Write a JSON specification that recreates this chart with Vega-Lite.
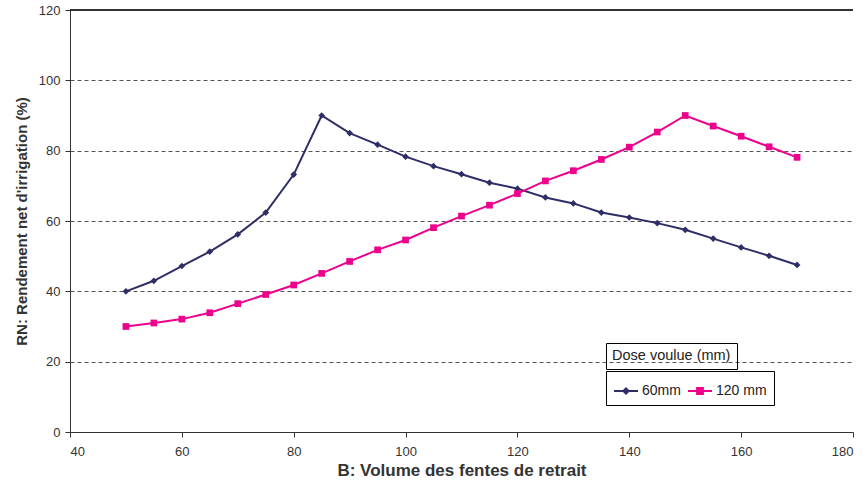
{
  "$schema": "https://vega.github.io/schema/vega-lite/v6.json",
  "autosize": "none",
  "width": 783,
  "height": 422,
  "padding": {"left": 70, "top": 10, "right": 14, "bottom": 54},
  "background": "white",
  "config": {
    "font": "Liberation Sans",
    "view": {"stroke": null},
    "axis": {
      "labelFont": "Liberation Sans",
      "labelFontSize": 13,
      "labelColor": "#333333",
      "titleFont": "Liberation Sans",
      "titleFontWeight": "bold",
      "titleColor": "#333333",
      "domainColor": "#333333",
      "tickColor": "#333333",
      "tickSize": 5
    }
  },
  "data": {
    "values": [
      {"B": 50, "RN": 40, "Dose": "60mm"},
      {"B": 55, "RN": 43, "Dose": "60mm"},
      {"B": 60, "RN": 47.2, "Dose": "60mm"},
      {"B": 65, "RN": 51.3, "Dose": "60mm"},
      {"B": 70, "RN": 56.2, "Dose": "60mm"},
      {"B": 75, "RN": 62.4, "Dose": "60mm"},
      {"B": 80, "RN": 73.2, "Dose": "60mm"},
      {"B": 85, "RN": 90, "Dose": "60mm"},
      {"B": 90, "RN": 85, "Dose": "60mm"},
      {"B": 95, "RN": 81.7, "Dose": "60mm"},
      {"B": 100, "RN": 78.3, "Dose": "60mm"},
      {"B": 105, "RN": 75.6, "Dose": "60mm"},
      {"B": 110, "RN": 73.3, "Dose": "60mm"},
      {"B": 115, "RN": 70.9, "Dose": "60mm"},
      {"B": 120, "RN": 69.2, "Dose": "60mm"},
      {"B": 125, "RN": 66.7, "Dose": "60mm"},
      {"B": 130, "RN": 65, "Dose": "60mm"},
      {"B": 135, "RN": 62.4, "Dose": "60mm"},
      {"B": 140, "RN": 61, "Dose": "60mm"},
      {"B": 145, "RN": 59.4, "Dose": "60mm"},
      {"B": 150, "RN": 57.5, "Dose": "60mm"},
      {"B": 155, "RN": 55, "Dose": "60mm"},
      {"B": 160, "RN": 52.5, "Dose": "60mm"},
      {"B": 165, "RN": 50.1, "Dose": "60mm"},
      {"B": 170, "RN": 47.5, "Dose": "60mm"},
      {"B": 50, "RN": 30, "Dose": "120 mm"},
      {"B": 55, "RN": 31, "Dose": "120 mm"},
      {"B": 60, "RN": 32.1, "Dose": "120 mm"},
      {"B": 65, "RN": 33.9, "Dose": "120 mm"},
      {"B": 70, "RN": 36.5, "Dose": "120 mm"},
      {"B": 75, "RN": 39.1, "Dose": "120 mm"},
      {"B": 80, "RN": 41.8, "Dose": "120 mm"},
      {"B": 85, "RN": 45.1, "Dose": "120 mm"},
      {"B": 90, "RN": 48.5, "Dose": "120 mm"},
      {"B": 95, "RN": 51.8, "Dose": "120 mm"},
      {"B": 100, "RN": 54.6, "Dose": "120 mm"},
      {"B": 105, "RN": 58.1, "Dose": "120 mm"},
      {"B": 110, "RN": 61.4, "Dose": "120 mm"},
      {"B": 115, "RN": 64.5, "Dose": "120 mm"},
      {"B": 120, "RN": 67.8, "Dose": "120 mm"},
      {"B": 125, "RN": 71.4, "Dose": "120 mm"},
      {"B": 130, "RN": 74.3, "Dose": "120 mm"},
      {"B": 135, "RN": 77.5, "Dose": "120 mm"},
      {"B": 140, "RN": 81, "Dose": "120 mm"},
      {"B": 145, "RN": 85.3, "Dose": "120 mm"},
      {"B": 150, "RN": 90, "Dose": "120 mm"},
      {"B": 155, "RN": 87, "Dose": "120 mm"},
      {"B": 160, "RN": 84.1, "Dose": "120 mm"},
      {"B": 165, "RN": 81.1, "Dose": "120 mm"},
      {"B": 170, "RN": 78.1, "Dose": "120 mm"}
    ]
  },
  "encoding": {
    "x": {
      "field": "B",
      "type": "quantitative",
      "scale": {"domain": [40, 180], "nice": false, "zero": false},
      "axis": {
        "title": "B: Volume des fentes de retrait",
        "titleFontSize": 17,
        "values": [40, 60, 80, 100, 120, 140, 160, 180],
        "grid": false,
        "labelPadding": 8,
        "titlePadding": 4
      }
    },
    "y": {
      "field": "RN",
      "type": "quantitative",
      "scale": {"domain": [0, 120], "nice": false},
      "axis": {
        "title": "RN: Rendement net d'irrigation (%)",
        "titleFontSize": 15,
        "values": [0, 20, 40, 60, 80, 100, 120],
        "grid": true,
        "gridDash": [4, 3],
        "gridColor": "#555555",
        "gridWidth": 1,
        "labelPadding": 5,
        "titlePadding": 9
      }
    }
  },
  "layer": [
    {
      "mark": {"type": "rule", "color": "#333333", "strokeWidth": 1},
      "encoding": {"y": {"datum": 120}, "x": null}
    },
    {
      "mark": {"type": "line", "strokeWidth": 2},
      "encoding": {
        "color": {
          "field": "Dose",
          "type": "nominal",
          "scale": {"domain": ["60mm", "120 mm"], "range": ["#2E2E66", "#EC008C"]},
          "legend": {
            "title": null,
            "orient": "none",
            "legendX": 536,
            "legendY": 361,
            "direction": "horizontal",
            "columns": 2,
            "strokeColor": "#000000",
            "padding": 7,
            "labelFont": "Liberation Sans",
            "labelFontSize": 14,
            "labelColor": "#222222",
            "labelOffset": 3,
            "columnPadding": 3,
            "symbolSize": 576,
            "symbolStrokeWidth": 2,
            "symbolType": "M-1,0L1,0M0,-0.24L0.24,0L0,0.24L-0.24,0Z",
            "encode": {
              "symbols": {
                "update": {
                  "shape": {"signal": "datum.value === '60mm' ? 'M-1,0L1,0M0,-0.22L0.22,0L0,0.22L-0.22,0Z' : 'M-1,0L1,0M-0.24,-0.24L0.24,-0.24L0.24,0.24L-0.24,0.24Z'"},
                  "fill": {"signal": "datum.value === '60mm' ? '#2E2E66' : '#EC008C'"},
                  "stroke": {"signal": "datum.value === '60mm' ? '#2E2E66' : '#EC008C'"},
                  "size": {"value": 576},
                  "strokeWidth": {"value": 2},
                  "strokeOpacity": {"value": 1},
                  "fillOpacity": {"value": 1},
                  "opacity": {"value": 1}
                }
              }
            }
          }
        }
      }
    },
    {
      "transform": [{"filter": "datum.Dose === '60mm'"}],
      "mark": {"type": "point", "filled": true, "size": 45, "shape": "diamond", "color": "#2E2E66", "opacity": 1}
    },
    {
      "transform": [{"filter": "datum.Dose === '120 mm'"}],
      "mark": {"type": "point", "filled": true, "size": 45, "shape": "square", "color": "#EC008C", "opacity": 1},
      "encoding": {
        "opacity": {
          "field": "RN",
          "type": "quantitative",
          "scale": {"range": [1, 1]},
          "legend": {
            "title": "Dose voulue (mm)",
            "values": [],
            "orient": "none",
            "legendX": 536,
            "legendY": 333,
            "strokeColor": "#000000",
            "padding": 6,
            "titleFont": "Liberation Sans",
            "titleFontSize": 14.5,
            "titleFontWeight": "normal",
            "titleColor": "#222222",
            "titlePadding": 0
          }
        }
      }
    }
  ]
}
